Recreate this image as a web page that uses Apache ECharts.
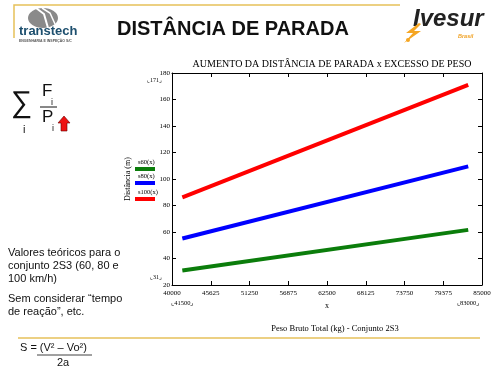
<!DOCTYPE html>
<html>
<head>
<meta charset="utf-8">
<script src="https://cdn.jsdelivr.net/npm/echarts@6/dist/echarts.min.js"></script>
<style>html,body{margin:0;padding:0;background:#fff}#c{width:500px;height:371px}</style>
</head>
<body>
<div id="c"></div>
<script>
// ---- data ----
const weights = [41500, 83000];           // Peso Bruto Total (kg)
const s60 = [31, 61.6];                   // 60 km/h
const s80 = [55.1, 109.5];                // 80 km/h
const s100 = [86.1, 171];                 // 100 km/h
const xTicks = [40000, 45625, 51250, 56875, 62500, 68125, 73750, 79375, 85000];
const seriesNames = ['s60(x)', 's80(x)', 's100(x)'];
const markerY = [171, 31];
const markerX = [41500, 83000];

const serif = 'Liberation Serif, DejaVu Serif, serif';
const sans = 'Liberation Sans, Arial, sans-serif';
const colors = ['#0b7d0b', '#0000ff', '#ff0000'];
const gold = '#e6c15a';

const chart = echarts.init(document.getElementById('c'), null, {renderer: 'canvas'});
const pair = (ys) => weights.map((w, i) => [w, ys[i]]);

const GRID = {left: 172, top: 73, width: 310, height: 212};

const option = {
  animation: false,
  backgroundColor: '#fff',
  title: [
    {text: 'AUMENTO DA DISTÂNCIA DE PARADA x EXCESSO DE PESO', left: 327, textAlign: 'center', top: 54,
     textStyle: {fontFamily: serif, fontWeight: 'normal', fontSize: 10, color: '#000'}},
    {text: 'Peso Bruto Total (kg) - Conjunto 2S3', left: 330, textAlign: 'center', top: 319,
     textStyle: {fontFamily: serif, fontWeight: 'normal', fontSize: 8.5, color: '#000'}}
  ],
  grid: GRID,
  xAxis: [
    {type: 'value', min: 40000, max: 85000, position: 'bottom',
     name: 'x', nameLocation: 'middle', nameGap: 16,
     nameTextStyle: {fontFamily: serif, fontSize: 8, color: '#000'},
     axisLine: {show: true, lineStyle: {color: '#000', width: 1}},
     axisTick: {inside: true, length: 4, customValues: xTicks, lineStyle: {color: '#000'}},
     axisLabel: {customValues: xTicks, formatter: v => String(v), fontFamily: serif, fontSize: 7, color: '#000', margin: 5},
     splitLine: {show: false}},
    {type: 'value', min: 40000, max: 85000, position: 'top',
     axisLine: {show: true, lineStyle: {color: '#000', width: 1}},
     axisTick: {inside: true, length: 4, customValues: xTicks, lineStyle: {color: '#000'}},
     axisLabel: {show: false}, splitLine: {show: false}}
  ],
  yAxis: [
    {type: 'value', min: 20, max: 180, interval: 20, position: 'left',
     name: 'Distância (m)', nameLocation: 'middle', nameRotate: 90, nameGap: 40,
     nameTextStyle: {fontFamily: serif, fontSize: 8, color: '#000'},
     axisLine: {show: true, lineStyle: {color: '#000', width: 1}},
     axisTick: {inside: true, length: 4, lineStyle: {color: '#000'}},
     axisLabel: {fontFamily: serif, fontSize: 7, color: '#000', margin: 2},
     splitLine: {show: false}},
    {type: 'value', min: 20, max: 180, interval: 20, position: 'right',
     axisLine: {show: true, lineStyle: {color: '#000', width: 1}},
     axisTick: {inside: true, length: 4, lineStyle: {color: '#000'}},
     axisLabel: {show: false}, splitLine: {show: false}}
  ],
  series: [s60, s80, s100].map((d, i) => ({
    name: seriesNames[i], type: 'line', data: pair(d), showSymbol: false,
    lineStyle: {color: colors[i], width: 4}, itemStyle: {color: colors[i]}
  }))
};
chart.setOption(option);

// annotation positions derived from the axes
const g = [];
const pY171 = chart.convertToPixel({gridIndex: 0}, [40000, markerY[0]]);
const pY31 = chart.convertToPixel({gridIndex: 0}, [40000, markerY[1]]);
g.push({type: 'text', style: {text: '⌞' + markerY[0] + '⌟', x: pY171[0] - 10, y: pY171[1] - 2, align: 'right', verticalAlign: 'bottom', font: '6px ' + serif, fill: '#000'}});
g.push({type: 'text', style: {text: '⌞' + markerY[1] + '⌟', x: pY31[0] - 10, y: pY31[1] + 4, align: 'right', verticalAlign: 'top', font: '6px ' + serif, fill: '#000'}});
markerX.forEach(v => {
  const p = chart.convertToPixel({gridIndex: 0}, [v, 20]);
  g.push({type: 'text', style: {text: '⌞' + v + '⌟', x: p[0], y: p[1] + 15, align: 'center', verticalAlign: 'top', font: '6.5px ' + serif, fill: '#000'}});
});

// legend (Mathcad style: label above short line)
const legY = [162, 176, 192];
seriesNames.forEach((n, i) => {
  g.push({type: 'text', style: {text: n, x: 138, y: legY[i], verticalAlign: 'middle', font: '6.5px ' + serif, fill: '#000'}});
  g.push({type: 'line', shape: {x1: 135, y1: legY[i] + 7, x2: 155, y2: legY[i] + 7}, style: {stroke: colors[i], lineWidth: 4}});
});

// slide decorations
g.push({type: 'polyline', shape: {points: [[14, 38], [14, 5], [400, 5]]}, style: {stroke: gold, lineWidth: 1.5, fill: null}});
g.push({type: 'line', shape: {x1: 18, y1: 338, x2: 480, y2: 338}, style: {stroke: gold, lineWidth: 1.5}});
// transtech logo
g.push({type: 'ellipse', shape: {cx: 43, cy: 18, rx: 15, ry: 10}, style: {fill: '#8a8a8a'}});
g.push({type: 'polyline', shape: {points: [[36, 8], [44, 14], [48, 28]]}, style: {stroke: '#fff', lineWidth: 2, fill: null}});
g.push({type: 'polyline', shape: {points: [[42, 8], [50, 13], [55, 24]]}, style: {stroke: '#fff', lineWidth: 1.5, fill: null}});
g.push({type: 'text', style: {text: 'transtech', x: 19, y: 25, font: 'bold 13px ' + sans, fill: '#1d4f6e'}});
g.push({type: 'text', style: {text: 'ENGENHARIA E INSPEÇÃO S/C', x: 19, y: 39, font: 'bold 3.5px ' + sans, fill: '#555'}});
// main title
g.push({type: 'text', style: {text: 'DISTÂNCIA DE PARADA', x: 117, y: 19, font: 'bold 20px ' + sans, fill: '#111'}});
// Ivesur logo
g.push({type: 'text', style: {text: 'Ivesur', x: 413, y: 7, font: 'italic bold 24px ' + sans, fill: '#222'}});
g.push({type: 'text', style: {text: 'Brasil', x: 458, y: 33, font: 'italic bold 5.5px ' + sans, fill: '#f0a020'}});
g.push({type: 'polygon', shape: {points: [[419, 23], [406, 33], [413, 33], [404, 43], [421, 31], [414, 31], [421, 24]]}, style: {fill: '#f5a623'}});
g.push({type: 'circle', shape: {cx: 408, cy: 40, r: 2}, style: {fill: '#f5a623'}});
// left formula
g.push({type: 'text', style: {text: '∑', x: 11, y: 89, font: '30px ' + sans, fill: '#111'}});
g.push({type: 'text', style: {text: 'i', x: 23, y: 124, font: '11px ' + sans, fill: '#111'}});
g.push({type: 'text', style: {text: 'F', x: 42, y: 83, font: '17px ' + sans, fill: '#111'}});
g.push({type: 'text', style: {text: 'i', x: 51, y: 98, font: '9px ' + sans, fill: '#111'}});
g.push({type: 'line', shape: {x1: 40, y1: 107, x2: 57, y2: 107}, style: {stroke: '#111', lineWidth: 1}});
g.push({type: 'text', style: {text: 'P', x: 42, y: 109, font: '17px ' + sans, fill: '#111'}});
g.push({type: 'text', style: {text: 'i', x: 52, y: 124, font: '9px ' + sans, fill: '#111'}});
g.push({type: 'polygon', shape: {points: [[64, 116], [70, 123], [67, 123], [67, 131], [61, 131], [61, 123], [58, 123]]}, style: {fill: '#ee1111', stroke: '#600', lineWidth: 0.6}});
// left text
const leftLines = [
  ['Valores teóricos para o', 247], ['conjunto 2S3 (60, 80 e', 260], ['100 km/h)', 273],
  ['Sem considerar “tempo', 293], ['de reação”, etc.', 306]
];
leftLines.forEach(([t, y]) => g.push({type: 'text', style: {text: t, x: 8, y: y, font: '11px ' + sans, fill: '#111'}}));
g.push({type: 'text', style: {text: 'S = (V² – Vo²)', x: 20, y: 342, font: '11px ' + sans, fill: '#111'}});
g.push({type: 'line', shape: {x1: 37, y1: 355, x2: 92, y2: 355}, style: {stroke: '#111', lineWidth: 0.8}});
g.push({type: 'text', style: {text: '2a', x: 57, y: 357, font: '11px ' + sans, fill: '#111'}});

chart.setOption({graphic: {elements: g}});
</script>
</body>
</html>
